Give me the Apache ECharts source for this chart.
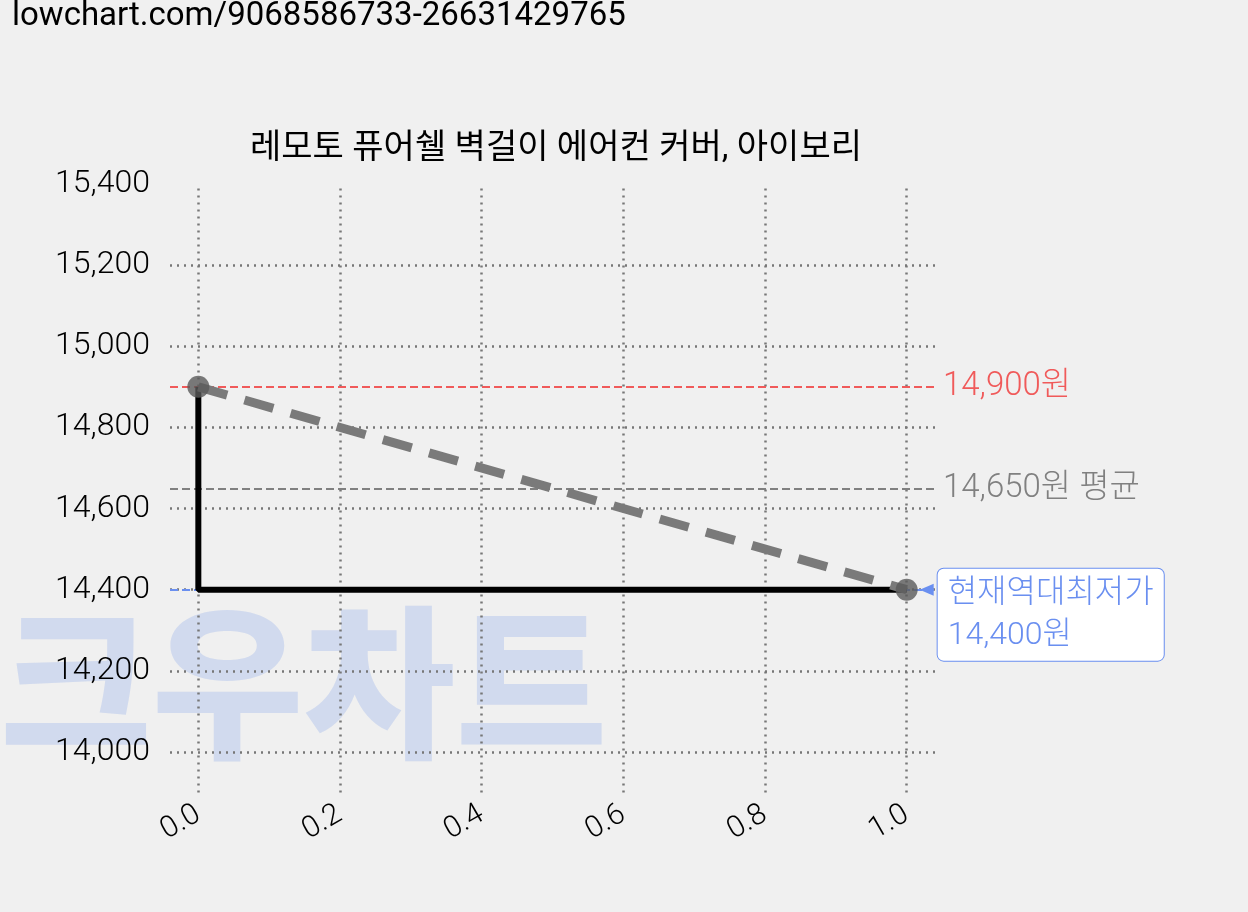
<!DOCTYPE html><html><head><meta charset="utf-8"><script src="https://cdn.jsdelivr.net/npm/echarts@6/dist/echarts.min.js"></script></head><body style="margin:0;background:#f0f0f0"><div id="c" style="width:1248px;height:912px"></div><script>
const xs=[0,1];
const prices=[14900,14400];
const maxP=14900, avgP=14650, minP=14400;
const title='레모토 퓨어쉘 벽걸이 에어컨 커버, 아이보리';
const ch=echarts.init(document.getElementById('c'));
const F='Roboto, "Noto Sans CJK KR", sans-serif';
const xt=[0,0.2,0.4,0.6,0.8,1.0], yt=[14000,14200,14400,14600,14800,15000,15200];
ch.setOption({backgroundColor:'#f0f0f0',animation:false,
title:{text:title,left:551,top:128,textAlign:'center',textStyle:{fontFamily:F,fontSize:34,fontWeight:'normal',color:'#000'}},
graphic:[{type:'text',left:12,top:0,style:{text:'lowchart.com/9068586733-26631429765',font:'33px '+F,fill:'#000'}},
{type:'text',left:0,top:600,z:-1,style:{text:'크우차트',font:'900 165px "Noto Sans CJK KR"',fill:'rgba(100,140,230,0.22)'}}],
grid:{left:170,right:313,top:184,bottom:119.5},
xAxis:{type:'value',min:-0.04,max:1.04,interval:0.2,axisLine:{show:false},axisTick:{show:false},
 axisLabel:{rotate:30,fontSize:30,fontWeight:300,fontFamily:F,color:'#000',margin:20,formatter:v=>v.toFixed(1),customValues:xt},
 splitLine:{show:false}},
yAxis:{type:'value',min:13900,max:15400,interval:100,axisLine:{show:false},axisTick:{show:false},
 axisLabel:{fontSize:32,fontWeight:300,fontFamily:F,color:'#000',margin:20,formatter:v=>v%200===0?v.toLocaleString('en-US'):''},
 splitLine:{show:false}},
series:[
{type:'line',z:1,data:xt.map(x=>[x,13900]),symbol:'none',lineStyle:{width:0},
 markLine:{silent:true,symbol:'none',label:{show:false},lineStyle:{color:'#777',type:[2,5],width:2.5},data:xt.map(x=>[{coord:[x,13900]},{coord:[x,15400]}])}},
{type:'line',z:1,data:yt.map(y=>[-0.04,y]),symbol:'none',lineStyle:{width:0},
 markLine:{silent:true,symbol:'none',label:{show:false},lineStyle:{color:'#777',type:[2,5],width:2.5},data:yt.map(y=>[{coord:[-0.04,y]},{coord:[1.04,y]}])}},
{type:'line',data:[[xs[0],prices[0]],[xs[0],prices[1]],[xs[1],prices[1]]],symbol:'none',lineStyle:{color:'#000',width:6},z:5},
{type:'line',data:xs.map((x,i)=>[x,prices[i]]),symbol:'circle',symbolSize:22,itemStyle:{color:'rgba(90,90,90,0.8)'},lineStyle:{color:'#7a7a7a',width:9,type:[30,18]},z:6,
 markLine:{silent:true,symbol:'none',data:[
  {yAxis:maxP,lineStyle:{color:'#f05a5a',type:'dashed',width:2},label:{formatter:'14,900원',color:'#f05a5a',fontSize:33,fontWeight:300,fontFamily:F,distance:8}},
  {yAxis:avgP,lineStyle:{color:'#808080',type:'dashed',width:2},label:{formatter:'14,650원 평균',color:'#808080',fontSize:33,fontWeight:300,fontFamily:F,distance:8}},
  {yAxis:minP,lineStyle:{color:'#6a8ff0',type:'dashed',width:2},label:{show:false}}]},
 markPoint:{silent:true,data:[{coord:[1,minP],symbol:'triangle',symbolSize:[12,14],symbolRotate:90,symbolOffset:[20,0],itemStyle:{color:'#6a8ff0'},
  label:{show:true,position:'right',distance:4,offset:[0,25],formatter:'현재역대최저가\n14,400원',color:'#6a8ff0',fontSize:32,fontWeight:300,fontFamily:F,lineHeight:42,backgroundColor:'#fff',borderColor:'#6a8ff0',borderWidth:1,borderRadius:6,padding:[4,10,4,10],align:'left'}}]}}
]});
</script></body></html>
